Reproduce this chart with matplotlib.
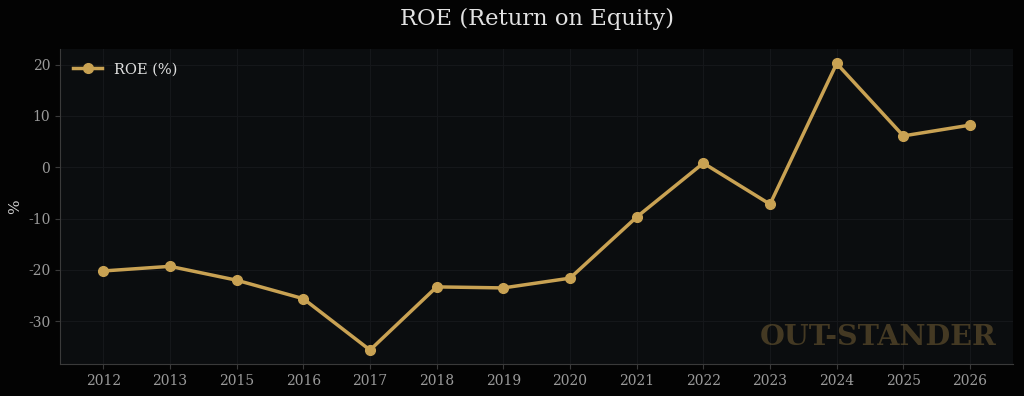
import matplotlib
matplotlib.use("Agg")
import matplotlib.pyplot as plt

# ROE values (2014 is missing in the source)
years = ["2012", "2013", "2015", "2016", "2017", "2018", "2019",
         "2020", "2021", "2022", "2023", "2024", "2025", "2026"]
roe = [-20.2, -19.3, -22.0, -25.6, -35.6, -23.3, -23.5,
       -21.6, -9.7, 0.8, -7.2, 20.2, 6.1, 8.2]

gold = "#c9a253"

plt.rcParams["font.family"] = "DejaVu Serif"
plt.rcParams["axes.unicode_minus"] = False

fig = plt.figure(figsize=(10.24, 3.96), dpi=100, facecolor="#030303")
ax = fig.add_axes([0.0586, 0.081, 0.931, 0.795])
ax.set_facecolor("#0b0d0f")

ax.plot(years, roe, color=gold, linewidth=2.5, marker="o", markersize=7,
        label="ROE (%)")

ax.set_ylim(-38.3, 23.0)
ax.set_yticks([-30, -20, -10, 0, 10, 20])
ax.grid(True, color="#15171a", linewidth=0.8)
ax.set_axisbelow(True)

for s in ["top", "right"]:
    ax.spines[s].set_visible(False)
for s in ["left", "bottom"]:
    ax.spines[s].set_color("#3a3a3a")

ax.tick_params(colors="#3a3a3a", labelcolor="#9a9a9a", labelsize=10)
ax.set_ylabel("%", color="#d0d0d0", fontsize=11)
ax.yaxis.set_label_coords(-0.040, 0.5)
ax.set_title("ROE (Return on Equity)", color="#e2e2e2", fontsize=16.3, pad=17)

leg = ax.legend(loc="upper left", frameon=False, fontsize=10.5)
for t in leg.get_texts():
    t.set_color("#e0e0e0")

ax.text(0.982, 0.083, "OUT-STANDER", transform=ax.transAxes, ha="right",
        va="center", fontsize=20.5, fontweight="bold", color=gold, alpha=0.3)

fig.savefig("out.png", dpi=100, facecolor=fig.get_facecolor())
